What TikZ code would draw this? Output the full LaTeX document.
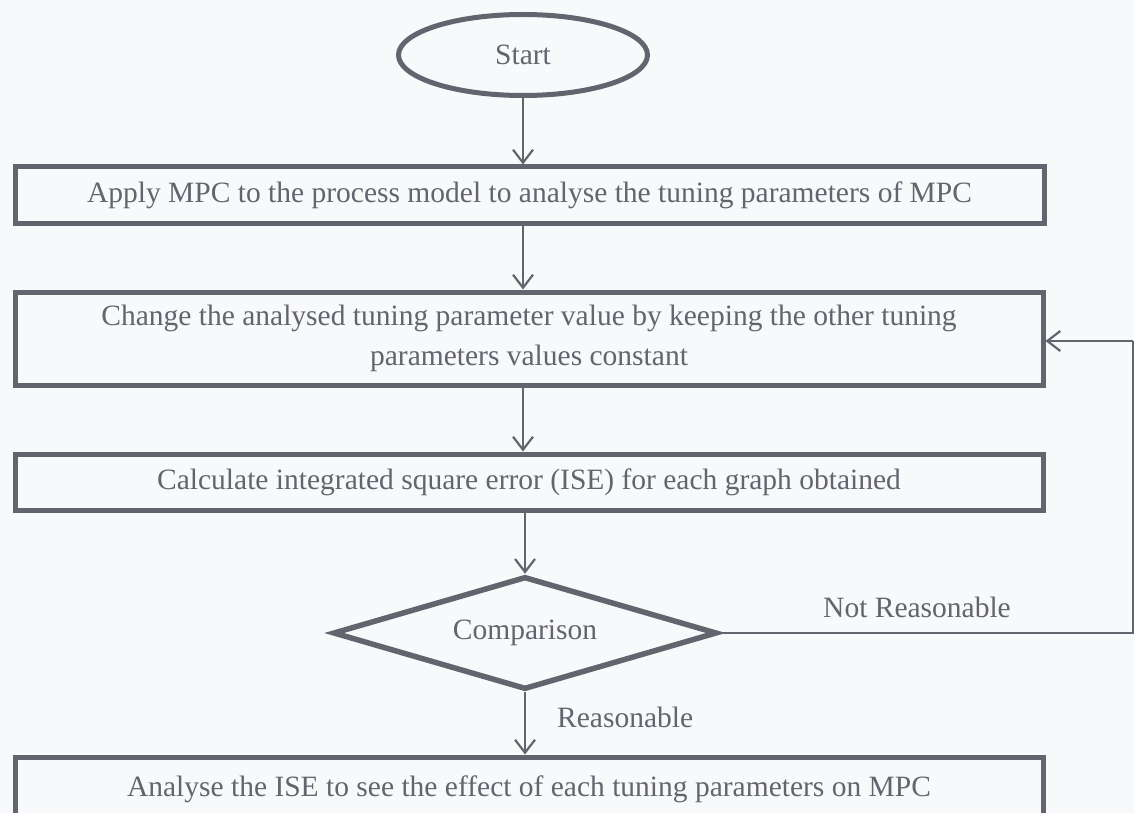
\documentclass[tikz,border=0pt]{standalone}
\usepackage{fontspec}
\setmainfont{Liberation Serif}
\usetikzlibrary{shapes.geometric,arrows.meta}
\definecolor{ink}{RGB}{100,100,110}
\definecolor{edge}{RGB}{100,100,110}
\definecolor{paper}{RGB}{248,249,251}
\tikzset{
  boxnode/.style={draw=edge, line width=5pt, rectangle, text=ink, font=\fontsize{29.5}{40}\selectfont, align=center, inner sep=0pt},
  startnode/.style={draw=edge, line width=5pt, ellipse, text=ink, font=\fontsize{29.5}{34}\selectfont, minimum width=249pt, minimum height=81pt, inner sep=0pt},
  decnode/.style={draw=edge, line width=5.5pt, diamond, aspect=3.3, text=ink, font=\fontsize{29.5}{34}\selectfont, inner sep=0pt, minimum width=384pt, minimum height=113pt},
  conn/.style={draw=edge, line width=2.2pt, -{Straight Barb[length=13pt,width=20pt,line width=2.2pt]}},
  line/.style={draw=edge, line width=2.2pt},
  lbl/.style={text=ink, font=\fontsize{29.5}{34}\selectfont, inner sep=0pt}
}
\begin{document}
\begin{tikzpicture}[x=1pt,y=-1pt]
\useasboundingbox (0,0) rectangle (1134,813);
\fill[paper] (0,0) rectangle (1134,813);
\clip (0,0) rectangle (1134,813);
\node[startnode] (start) at (523,55) {Start};
\node[boxnode, minimum width=1029pt, minimum height=56pt] (b1) at (529.5,195) {Apply MPC to the process model to analyse the tuning parameters of MPC};
\node[boxnode, minimum width=1028pt, minimum height=93pt] (b2) at (529,338.5) {Change the analysed tuning parameter value by keeping the other tuning\\parameters values constant};
\node[boxnode, minimum width=1028pt, minimum height=56pt] (b3) at (529,482) {Calculate integrated square error (ISE) for each graph obtained};
\node[decnode] (cmp) at (525,633) {\raisebox{4pt}{Comparison}};
\node[boxnode, minimum width=1028pt, minimum height=64pt] (b4) at (529,789) {\raisebox{5pt}{Analyse the ISE to see the effect of each tuning parameters on MPC}};
\coordinate (loopR) at (1133,633);
\coordinate (loopT) at (1133,341);
\node[lbl] (nr) at (917,607) {Not Reasonable};
\node[lbl, anchor=west] (rs) at (557,717) {Reasonable};
\draw[conn] (start.south) -- (start.south |- b1.north);
\draw[conn] (b1.south -| start.south) -- (b2.north -| start.south);
\draw[conn] (b2.south -| start.south) -- (b3.north -| start.south);
\draw[conn] (b3.south -| cmp.north) -- (cmp.north);
\draw[conn] (cmp.south) -- (cmp.south |- b4.north);
\draw[line] (cmp.east) -- (loopR) -- (loopT);
\draw[conn] (loopT) -- (loopT -| b2.east);
\end{tikzpicture}
\end{document}
